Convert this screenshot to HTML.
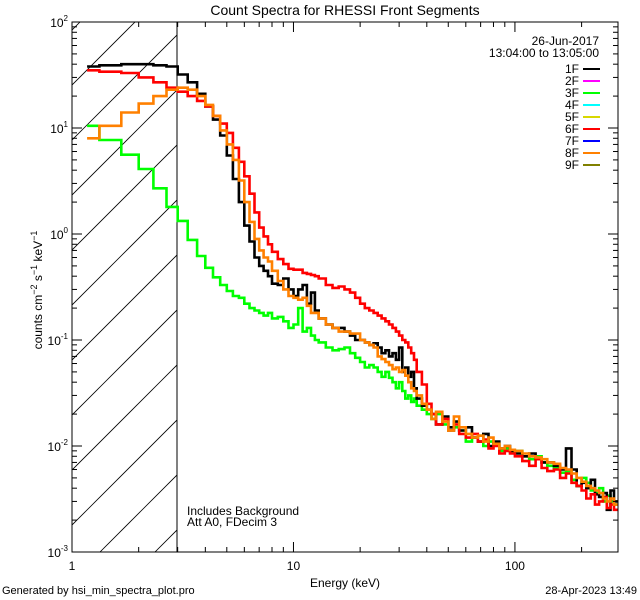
<!DOCTYPE html>
<html><head><meta charset="utf-8"><style>
html,body{margin:0;padding:0;background:#fff;}
svg{display:block;font-family:"Liberation Sans",sans-serif;}
</style></head><body>
<svg id="chart" width="640" height="600" xmlns="http://www.w3.org/2000/svg">
<rect width="640" height="600" fill="#fff"/>
<text x="345" y="15" font-size="14" text-anchor="middle">Count Spectra for RHESSI Front Segments</text>
<defs><clipPath id="plotclip"><rect x="72" y="22" width="546" height="530"/></clipPath>
<clipPath id="hatchclip"><rect x="72" y="22" width="105" height="530"/></clipPath></defs>
<g id="hatch" clip-path="url(#hatchclip)"></g>
<line x1="177" y1="22" x2="177" y2="552" stroke="#000" stroke-width="1"/>
<g id="series" clip-path="url(#plotclip)"></g>
<rect x="72" y="22" width="546" height="530" fill="none" stroke="#000" stroke-width="1"/>
<g id="axes"></g>
<text x="345" y="587" font-size="12" text-anchor="middle">Energy (keV)</text>
<text transform="translate(42,290) rotate(-90)" font-size="12" text-anchor="middle">counts cm<tspan dy="-5" font-size="9">−2</tspan><tspan dy="5"> s</tspan><tspan dy="-5" font-size="9">−1</tspan><tspan dy="5"> keV</tspan><tspan dy="-5" font-size="9">−1</tspan></text>
<text x="599" y="45" font-size="12" text-anchor="end">26-Jun-2017</text>
<text x="599" y="57" font-size="12" text-anchor="end">13:04:00 to 13:05:00</text>
<g id="legend"></g>
<text x="187" y="515" font-size="12">Includes Background</text>
<text x="187" y="526" font-size="12">Att A0, FDecim 3</text>
<text x="2" y="594" font-size="11">Generated by hsi_min_spectra_plot.pro</text>
<text x="637" y="594" font-size="11" text-anchor="end">28-Apr-2023 13:49</text>
</svg>
<script>
const energyEdges=[1.17,1.33,1.67,2,2.33,2.67,3,3.33,3.67,4,4.33,4.67,5,5.33,5.67,6,6.33,6.67,7,7.33,7.67,8,
8.5,9,9.5,10,10.5,11,11.5,12,12.5,13,
14,15,16,17,18,19,20,21,22,23,24,25,26,27,28,29,30,31,32,33,34,35,36,
38,40,42,44,47,50,53,56,60,64,68,72,76,80,85,90,95,100,
108,116,124,132,140,150,160,170,180,190,200,210,220,230,240,250,260,270,280,292];
const seg1F=[38,39,40,40,39,38,32,27,21,16,12,8.5,5.5,3.3,2.0,1.2,0.85,0.6,0.5,0.45,0.4,0.34,0.33,0.38,0.3,0.26,0.3,0.33,0.22,0.28,0.19,0.16,0.14,
0.13,0.13,0.12,0.11,0.1,0.1,0.095,0.09,0.093,0.085,0.075,0.08,0.07,0.075,0.065,0.085,0.05,0.055,0.045,0.05,0.035,
0.028,0.024,0.022,0.02,0.016,0.019,0.015,0.017,0.014,0.015,0.012,0.011,0.013,0.01,0.011,0.0095,0.01,0.009,
0.0085,0.008,0.0085,0.0075,0.007,0.007,0.0065,0.006,0.0095,0.006,0.0042,0.0045,0.004,0.0048,0.0035,0.0033,0.0036,0.0025,0.0038,0.003];
const seg3F=[10.5,7.7,5.6,4.1,2.7,1.8,1.33,0.88,0.62,0.48,0.39,0.33,0.29,0.26,0.25,0.22,0.2,0.19,0.18,0.17,0.18,0.16,0.165,0.15,0.13,0.14,0.2,0.12,0.13,0.11,0.1,0.095,0.085,
0.08,0.082,0.085,0.075,0.068,0.062,0.055,0.058,0.055,0.05,0.045,0.05,0.044,0.04,0.035,0.04,0.033,0.028,0.03,0.026,0.028,
0.024,0.022,0.02,0.018,0.02,0.016,0.014,0.015,0.014,0.011,0.012,0.0125,0.01,0.011,0.0105,0.009,0.0095,0.0088,
0.009,0.008,0.0075,0.008,0.007,0.0065,0.0062,0.0056,0.0058,0.0048,0.0042,0.005,0.0045,0.0038,0.0036,0.004,0.003,0.0034,0.003,0.0028];
const seg6F=[35,34,33,30,27,24,22,20,18,16,13,11,9,6.5,4.8,3.5,2.4,1.6,1.15,0.95,0.8,0.68,0.58,0.52,0.47,0.46,0.46,0.43,0.42,0.41,0.4,0.38,0.33,
0.31,0.32,0.3,0.28,0.25,0.22,0.2,0.19,0.18,0.17,0.16,0.15,0.14,0.13,0.12,0.11,0.1,0.095,0.085,0.075,0.065,
0.05,0.038,0.025,0.02,0.016,0.018,0.014,0.016,0.013,0.012,0.013,0.011,0.0115,0.0095,0.01,0.0085,0.009,0.0085,
0.008,0.0072,0.0065,0.0075,0.0062,0.0058,0.006,0.005,0.0055,0.0045,0.0042,0.0038,0.0032,0.0035,0.0028,0.003,0.0033,0.0026,0.0028,0.0025];
const seg8F=[8,10.5,14,17,20,23,24,23,20,16.5,13,9.5,7,5,3.2,2,1.3,0.9,0.7,0.6,0.55,0.45,0.36,0.3,0.26,0.25,0.24,0.25,0.21,0.18,0.18,0.16,0.14,
0.13,0.12,0.12,0.115,0.115,0.1,0.095,0.09,0.085,0.07,0.066,0.062,0.058,0.053,0.055,0.05,0.052,0.046,0.04,0.035,0.033,
0.03,0.025,0.022,0.018,0.021,0.017,0.014,0.019,0.015,0.013,0.012,0.0125,0.011,0.012,0.0105,0.0095,0.01,0.0092,
0.009,0.0085,0.008,0.0078,0.0075,0.007,0.0068,0.0062,0.006,0.0055,0.005,0.0046,0.0042,0.004,0.0038,0.0036,0.0032,0.003,0.0032,0.0028];
const legendLabels=["1F","2F","3F","4F","5F","6F","7F","8F","9F"];
const legendColors=["#000000","#ff00ff","#00ff00","#00ffff","#d8d800","#ff0000","#0000ff","#ff8000","#808000"];
const yTickExps=[2,1,0,-1,-2,-3];
const xTickValues=[1,10,100];

const NS="http://www.w3.org/2000/svg";
const X0=72,X1=618,Y0=22,Y1=552,XMAX=292;
const xs=e=>X0+(X1-X0)*Math.log10(e)/Math.log10(XMAX);
const ys=v=>Y0+(Y1-Y0)*(2-Math.log10(v))/5;
function mk(tag,attrs,parent){const el=document.createElementNS(NS,tag);for(const k in attrs)el.setAttribute(k,attrs[k]);parent.appendChild(el);return el;}

// hatch
const hatch=document.getElementById('hatch');
for(let k=-2;k<14;k++){const c=157+55*k;
 const l=mk('line',{x1:c-600,y1:600,x2:c,y2:0,stroke:'#000','stroke-width':0.8},hatch);
 
 }

// series
const sg=document.getElementById('series');
function drawSeries(vals,color,name){
 let d='';const n=Math.min(vals.length,energyEdges.length-1);
 for(let i=0;i<n;i++){const y=ys(vals[i]).toFixed(1);const a=xs(energyEdges[i]).toFixed(1),b=xs(energyEdges[i+1]).toFixed(1);
  d+=(i===0?'M':'L')+a+','+y+'L'+b+','+y;}
 const p=mk('path',{d:d,fill:'none',stroke:color,'stroke-width':2.6,'stroke-linejoin':'miter'},sg);
 
 
}
drawSeries(seg3F,'#00ff00','series-3f');
drawSeries(seg1F,'#000000','series-1f');
drawSeries(seg6F,'#ff0000','series-6f');
drawSeries(seg8F,'#ff8000','series-8f');

// axes
const ax=document.getElementById('axes');
for(let e=-3;e<2;e++){for(let m=1;m<10;m++){const v=m*Math.pow(10,e);const y=ys(v);const L=m===1?10:5;
 const t1=mk('line',{x1:X0,y1:y,x2:X0+L,y2:y,stroke:'#000'},ax);
 
 
 const t2=mk('line',{x1:X1,y1:y,x2:X1-L,y2:y,stroke:'#000'},ax);
 
 }}
yTickExps.forEach(e=>{const y=ys(Math.pow(10,e));
 const t=mk('text',{x:X0-4,y:y+5,'font-size':12,'text-anchor':'end'},ax);
 
 
 t.innerHTML='10<tspan dy="-6" font-size="8">'+e+'</tspan>';});
for(let e=0;e<3;e++){for(let m=1;m<10;m++){const v=m*Math.pow(10,e);if(v>XMAX)break;const x=xs(v);const L=m===1?10:5;
 const t1=mk('line',{x1:x,y1:Y1,x2:x,y2:Y1-L,stroke:'#000'},ax);
 
 
 const t2=mk('line',{x1:x,y1:Y0,x2:x,y2:Y0+L,stroke:'#000'},ax);
 
 }}
xTickValues.forEach(v=>{const t=mk('text',{x:xs(v),y:Y1+18,'font-size':12,'text-anchor':'middle'},ax);
 
 
 t.textContent=String(v);});

// legend
const lg=document.getElementById('legend');
legendLabels.forEach((lab,i)=>{const y=69+12*i;
 const t=mk('text',{x:579,y:y+4,'font-size':12,'text-anchor':'end'},lg);
 
 
 t.textContent=lab;
 const l=mk('line',{x1:583,y1:y,x2:600,y2:y,stroke:legendColors[i],'stroke-width':2},lg);
 
 });
</script>
</body></html>
